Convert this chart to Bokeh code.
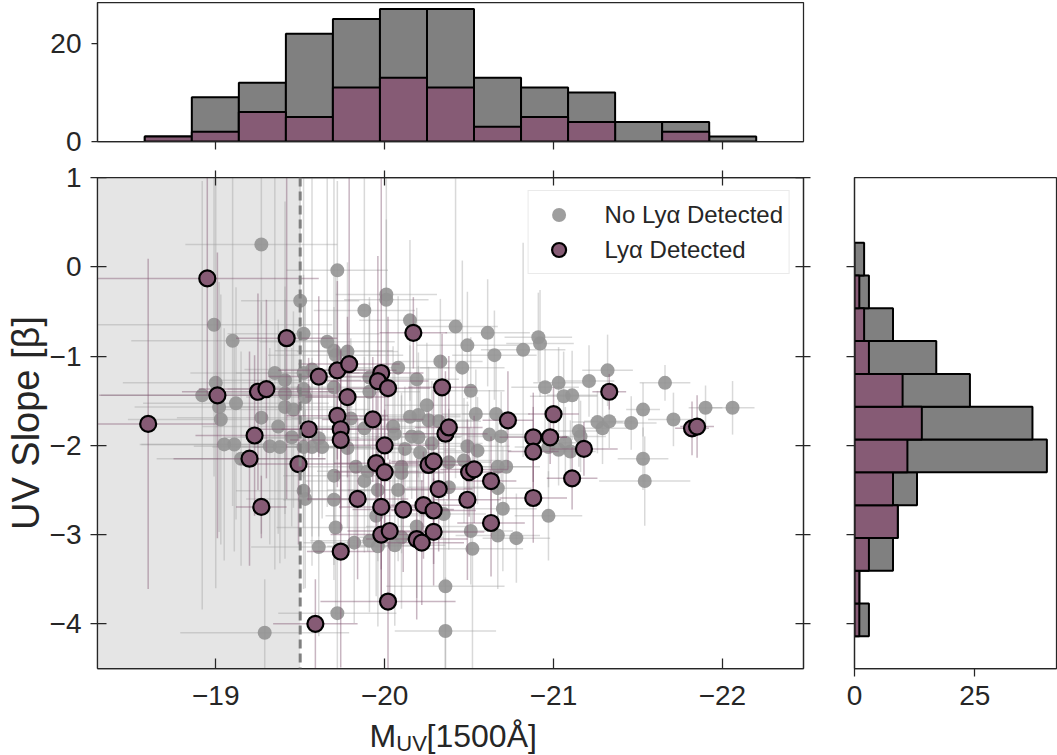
import numpy as np
from bokeh.plotting import figure
from bokeh.models import (Range1d, LinearAxis, FixedTicker, BoxAnnotation, Span, Legend,
                          LegendItem, ColumnDataSource, CustomJSTickFormatter)
from bokeh.core.properties import value
from bokeh.layouts import column, row
from bokeh.embed import file_html
from bokeh.resources import INLINE

# ---------------- data ----------------
gray_mag = [
    -19.27, -19.72, -19.50, -20.01, -20.01, -19.88, -18.99, -19.10, -20.15, -19.52,
    -19.66, -19.70, -19.78, -19.71, -20.33, -20.08, -19.35, -19.41, -19.52, -19.57,
    -19.91, -20.19, -19.00, -18.92, -19.02, -19.12, -19.41, -19.52, -19.53, -19.70,
    -19.91, -19.41, -19.46, -20.25, -20.15, -20.20, -20.26, -20.32, -19.27, -19.03,
    -19.80, -19.88, -19.37, -19.05, -19.11, -19.32, -19.38, -19.45, -19.61, -19.52,
    -19.57, -19.63, -19.78, -19.15, -19.83, -19.90, -19.88, -19.70, -19.52, -19.53,
    -19.70, -19.96, -19.95, -19.71, -19.82, -19.91, -19.61, -19.96, -19.72, -19.29,
    -20.06, -20.05, -20.16, -20.20, -20.12, -20.21, -20.28, -20.10, -20.10, -20.08,
    -20.19, -20.06, -20.10, -20.38, -20.47, -20.55, -20.49, -20.67, -20.72, -20.38,
    -20.67, -20.35, -20.70, -20.97, -20.51, -20.67, -20.78, -20.52, -20.36, -20.36,
    -20.42, -20.61, -20.49, -20.65, -20.82, -20.91, -20.92, -20.46, -20.51, -20.54,
    -20.66, -20.62, -20.69, -20.95, -21.03, -21.06, -21.11, -21.21, -21.32, -21.15,
    -21.16, -21.26, -21.29, -21.33, -21.07, -20.97, -21.03, -21.10, -21.46, -21.53,
    -21.71, -21.90, -22.06, -21.66, -21.53, -21.54]
gray_beta = [
    0.25, -0.04, -0.38, -0.31, -0.37, -0.49, -0.65, -0.83, -0.60, -0.75,
    -0.84, -0.94, -0.95, -0.99, -1.06, -1.13, -1.19, -1.27, -1.19, -1.15,
    -1.24, -1.26, -1.30, -1.44, -1.57, -1.53, -1.42, -1.37, -1.46, -1.35,
    -1.40, -1.57, -1.60, -1.55, -1.68, -1.66, -1.72, -1.73, -1.69, -1.71,
    -1.70, -1.81, -1.79, -1.99, -1.99, -2.01, -2.02, -1.91, -1.92, -2.02,
    -2.02, -2.02, -2.03, -2.15, -2.24, -2.29, -2.40, -2.34, -2.51, -2.60,
    -2.61, -2.50, -2.79, -2.92, -3.09, -3.07, -3.14, -3.13, -3.88, -4.10,
    -1.87, -1.79, -1.90, -1.91, -2.04, -2.08, -1.98, -2.24, -2.31, -2.50,
    -2.91, -3.12, -3.03, -2.19, -2.17, -2.06, -2.01, -2.24, -2.24, -2.47,
    -2.48, -2.77, -2.71, -2.79, -2.96, -3.01, -3.04, -3.16, -3.58, -4.08,
    -0.67, -0.74, -0.88, -0.99, -0.93, -0.79, -0.86, -1.13, -1.39, -1.65,
    -1.65, -1.88, -1.90, -1.35, -1.30, -1.45, -1.44, -1.28, -1.16, -1.84,
    -1.90, -1.74, -1.81, -1.73, -1.97, -2.02, -2.05, -2.07, -1.75, -1.60,
    -1.71, -1.58, -1.58, -1.30, -2.15, -2.40]
gray_mag_err = [
    0.45, 0.30, 0.35, 0.30, 0.25, 0.30, 0.70, 0.60, 0.30, 0.45,
    0.40, 0.35, 0.30, 0.40, 0.25, 0.30, 0.50, 0.45, 0.40, 0.40,
    0.30, 0.25, 0.55, 0.60, 0.50, 0.55, 0.40, 0.45, 0.35, 0.35,
    0.30, 0.40, 0.45, 0.25, 0.30, 0.25, 0.30, 0.25, 0.50, 0.55,
    0.35, 0.30, 0.45, 0.50, 0.55, 0.45, 0.40, 0.40, 0.35, 0.40,
    0.35, 0.40, 0.30, 0.50, 0.30, 0.30, 0.35, 0.30, 0.40, 0.35,
    0.30, 0.30, 0.30, 0.35, 0.30, 0.35, 0.40, 0.30, 0.35, 0.50,
    0.30, 0.25, 0.30, 0.25, 0.30, 0.25, 0.30, 0.30, 0.25, 0.30,
    0.30, 0.30, 0.25, 0.25, 0.25, 0.20, 0.25, 0.20, 0.20, 0.25,
    0.20, 0.25, 0.20, 0.20, 0.25, 0.25, 0.20, 0.30, 0.35, 0.30,
    0.25, 0.25, 0.30, 0.25, 0.25, 0.20, 0.20, 0.25, 0.20, 0.20,
    0.20, 0.20, 0.20, 0.20, 0.15, 0.20, 0.15, 0.15, 0.15, 0.15,
    0.15, 0.15, 0.15, 0.15, 0.15, 0.20, 0.15, 0.15, 0.15, 0.10,
    0.15, 0.10, 0.13, 0.15, 0.15, 0.27]
gray_beta_err = [
    0.9, 1.0, 1.4, 1.35, 0.9, 1.5, 1.7, 1.85, 0.9, 1.8,
    1.85, 1.95, 1.0, 0.9, 0.7, 0.8, 2.2, 2.0, 1.1, 2.2,
    0.9, 0.8, 2.3, 2.4, 1.4, 1.3, 1.2, 1.0, 1.1, 0.9,
    1.0, 1.2, 1.1, 0.7, 0.8, 0.7, 0.6, 0.7, 1.3, 1.4,
    0.9, 0.8, 1.2, 1.3, 1.2, 1.1, 1.3, 1.0, 1.1, 0.9,
    1.0, 0.8, 0.9, 1.2, 0.8, 0.9, 0.8, 1.0, 1.1, 1.0,
    0.9, 0.8, 0.9, 1.0, 0.9, 0.8, 1.0, 0.9, 0.7, 0.6,
    0.8, 0.9, 0.7, 0.8, 0.7, 0.8, 0.7, 0.8, 0.9, 0.8,
    0.8, 0.9, 0.8, 0.6, 0.7, 0.6, 0.5, 0.6, 0.5, 0.7,
    0.6, 0.8, 0.7, 0.5, 0.6, 0.6, 0.5, 1.35, 0.95, 0.6,
    1.7, 0.6, 0.6, 0.5, 1.2, 0.5, 0.6, 1.2, 0.6, 0.5,
    0.6, 0.5, 0.5, 0.5, 0.4, 0.5, 0.5, 0.4, 0.4, 0.4,
    0.4, 0.35, 0.4, 0.3, 0.4, 0.45, 0.4, 0.35, 0.3, 0.3,
    0.3, 0.25, 0.3, 0.2, 0.35, 0.5]

det_mag = [
    -18.60, -18.95, -19.01, -19.25, -19.30, -19.23, -19.20, -19.27, -19.42, -19.49,
    -19.55, -19.59, -19.61, -19.72, -19.79, -19.78, -19.72, -19.74, -19.74, -19.74,
    -19.93, -19.98, -19.96, -20.02, -20.00, -19.95, -20.00, -19.84, -19.98, -19.98,
    -20.03, -20.02, -20.17, -20.34, -20.36, -20.38, -20.11, -20.23, -20.29, -20.32,
    -20.26, -20.29, -20.29, -20.19, -20.22, -20.50, -20.53, -20.49, -20.63, -20.63,
    -20.73, -21.00, -20.88, -20.98, -21.18, -20.88, -21.11, -20.88, -21.33, -21.82, -21.85]
det_beta = [
    -1.76, -0.13, -1.44, -1.40, -1.37, -1.89, -2.15, -2.69, -0.80, -2.21,
    -1.82, -4.00, -1.23, -1.16, -1.09, -1.46, -1.67, -1.82, -1.94, -3.19,
    -1.71, -1.19, -1.28, -1.36, -2.00, -2.20, -2.30, -2.60, -2.69, -3.00,
    -2.96, -3.75, -0.74, -1.35, -1.87, -1.80, -2.72, -2.67, -2.73, -2.49,
    -2.22, -2.18, -2.97, -3.05, -3.09, -2.30, -2.27, -2.61, -2.40, -2.87,
    -1.72, -1.65, -1.91, -1.91, -2.04, -2.07, -2.37, -2.59, -1.40, -1.81, -1.79]
det_mag_err = [
    0.40, 0.66, 0.70, 0.45, 0.40, 0.35, 0.45, 0.15, 0.30, 0.35,
    0.30, 0.25, 0.30, 0.35, 0.30, 0.25, 0.30, 0.35, 0.30, 0.20,
    0.30, 0.25, 0.30, 0.25, 0.30, 0.25, 0.30, 0.30, 0.25, 0.30,
    0.25, 0.40, 0.20, 0.20, 0.25, 0.20, 0.30, 0.25, 0.25, 0.20,
    0.20, 0.25, 0.30, 0.30, 0.25, 0.20, 0.20, 0.20, 0.15, 0.20,
    0.15, 0.15, 0.20, 0.10, 0.20, 0.15, 0.15, 0.20, 0.10, 0.10, 0.10]
det_beta_err = [
    1.85, 1.30, 1.60, 1.10, 1.00, 0.90, 1.20, 0.35, 1.80, 0.90,
    0.80, 0.50, 0.90, 1.00, 2.10, 0.90, 0.80, 0.90, 1.00, 1.30,
    0.70, 2.20, 1.40, 0.80, 0.90, 0.80, 0.70, 0.90, 1.00, 0.80,
    0.80, 0.75, 0.40, 0.60, 0.70, 0.80, 0.70, 0.60, 0.60, 0.70,
    0.60, 0.80, 0.60, 0.90, 0.70, 0.50, 0.60, 0.90, 0.50, 0.60,
    0.55, 0.30, 0.50, 0.30, 0.30, 0.50, 0.35, 0.50, 0.20, 0.30, 0.35]

muv_bin_lo, muv_bin_hi = -18.58, -22.20
muv_counts_all = [1, 9, 12, 22, 25, 27, 27, 13, 11, 10, 4, 4, 1]
muv_counts_det = [1, 2, 6, 5, 11, 13, 11, 3, 5, 4, 0, 2, 0]

beta_bin_lo, beta_bin_hi = -4.14, 0.27
beta_counts_all = [3, 1, 8, 9, 13, 40, 37, 24, 17, 8, 3, 2]
beta_counts_det = [1, 1, 3, 9, 8, 11, 14, 10, 3, 2, 1, 0]

muv_limit = -19.5
x_ticks = [-19, -20, -21, -22]
y_ticks = [1, 0, -1, -2, -3, -4]

# ---------------- style ----------------
FONT = "Liberation Sans"
TXT = "#262626"
PURPLE = "#865b75"
GREY_BAR = "#808080"
TICK_FS = "28px"

minus_fmt = "return tick < 0 ? '\u2212' + (-tick) : '' + tick;"


def style_axis(ax, ticks, tin, tout, standoff=8, labels=True):
    ax.ticker = FixedTicker(ticks=ticks)
    ax.major_tick_in = tin
    ax.major_tick_out = tout
    ax.minor_tick_in = 0
    ax.minor_tick_out = 0
    ax.major_tick_line_color = TXT
    ax.major_tick_line_width = 1.25
    ax.axis_line_color = TXT
    ax.axis_line_width = 1.25
    ax.major_label_text_font = FONT
    ax.major_label_text_font_size = TICK_FS
    ax.major_label_text_color = TXT
    ax.major_label_standoff = standoff
    if labels:
        ax.formatter = CustomJSTickFormatter(code=minus_fmt)
    else:
        ax.formatter = CustomJSTickFormatter(code="return '';")
        ax.major_label_standoff = 0


def style_fig(p):
    p.outline_line_color = TXT
    p.outline_line_width = 1.25
    p.xgrid.visible = False
    p.ygrid.visible = False
    p.background_fill_color = "white"
    p.border_fill_color = "white"


x_range = Range1d(-18.3, -22.48)
y_range = Range1d(-4.5, 1.0)

main = figure(width=820, height=557, x_range=x_range, y_range=y_range,
              output_backend="svg", toolbar_location=None,
              min_border_left=97, min_border_right=17, min_border_top=17, min_border_bottom=49)
style_fig(main)
style_axis(main.xaxis[0], x_ticks, 10, 0, standoff=17)
style_axis(main.yaxis[0], y_ticks, 9, 7, standoff=9)
main.yaxis[0].axis_label = "UV Slope [β]"
main.yaxis[0].axis_label_text_font = FONT
main.yaxis[0].axis_label_text_font_size = "38px"
main.yaxis[0].axis_label_text_font_style = "normal"
main.yaxis[0].axis_label_text_color = TXT
main.yaxis[0].axis_label_standoff = 0
top_ax = LinearAxis()
style_axis(top_ax, x_ticks, 8, 7, labels=False)
main.add_layout(top_ax, "above")
right_ax = LinearAxis()
style_axis(right_ax, y_ticks, 8, 7, labels=False)
main.add_layout(right_ax, "right")

main.add_layout(BoxAnnotation(right=muv_limit, fill_color="#e5e5e5", fill_alpha=1.0,
                              line_color=None, level="underlay"))
main.add_layout(Span(location=muv_limit, dimension="height", line_color="#7f7f7f",
                     line_width=3, line_dash="9 5"))

gm = np.array(gray_mag); gb = np.array(gray_beta)
gme = np.array(gray_mag_err); gbe = np.array(gray_beta_err)
gsrc = ColumnDataSource(dict(x=gm, y=gb, xl=gm - gme, xr=gm + gme, yl=gb - gbe, yh=gb + gbe))
dm = np.array(det_mag); db = np.array(det_beta)
dme = np.array(det_mag_err); dbe = np.array(det_beta_err)
dsrc = ColumnDataSource(dict(x=dm, y=db, xl=dm - dme, xr=dm + dme, yl=db - dbe, yh=db + dbe))

main.segment(x0="xl", y0="y", x1="xr", y1="y", source=gsrc, line_color="#a0a0a0",
             line_alpha=0.4, line_width=1.5)
main.segment(x0="x", y0="yl", x1="x", y1="yh", source=gsrc, line_color="#a0a0a0",
             line_alpha=0.4, line_width=1.5)
gray_r = main.scatter("x", "y", source=gsrc, size=14, fill_color="#939393",
                      fill_alpha=0.9, line_color=None)
main.segment(x0="xl", y0="y", x1="xr", y1="y", source=dsrc, line_color=PURPLE,
             line_alpha=0.45, line_width=1.5)
main.segment(x0="x", y0="yl", x1="x", y1="yh", source=dsrc, line_color=PURPLE,
             line_alpha=0.45, line_width=1.5)
det_r = main.scatter("x", "y", source=dsrc, size=16, fill_color=PURPLE,
                     line_color="black", line_width=2.2)

legend = Legend(items=[LegendItem(label="No Lyα Detected", renderers=[gray_r]),
                       LegendItem(label="Lyα Detected", renderers=[det_r])],
                location="top_right", margin=13, padding=6, spacing=0,
                glyph_height=35, glyph_width=48, label_height=35, label_standoff=22,
                label_text_font=FONT, label_text_font_size="24px", label_text_color=TXT,
                background_fill_color="white", background_fill_alpha=0.8,
                border_line_color="#d5d5d5", border_line_width=1.2)
main.add_layout(legend)

top = figure(width=820, height=160, x_range=x_range, y_range=Range1d(0, 28.35),
             output_backend="svg", toolbar_location=None,
             min_border_left=97, min_border_right=17, min_border_top=2, min_border_bottom=19)
style_fig(top)
style_axis(top.xaxis[0], x_ticks, 0, 8, labels=False)
style_axis(top.yaxis[0], [0, 20], 0, 6, standoff=10)
medges = np.linspace(muv_bin_lo, muv_bin_hi, len(muv_counts_all) + 1)
top.quad(left=medges[:-1], right=medges[1:], bottom=0, top=muv_counts_all,
         fill_color=GREY_BAR, line_color="black", line_width=2)
mdet = np.array(muv_counts_det)
keep = mdet > 0
top.quad(left=medges[:-1][keep], right=medges[1:][keep], bottom=0, top=mdet[keep],
         fill_color=PURPLE, line_color="black", line_width=2)

rh = figure(width=237, height=557, x_range=Range1d(0, 42), y_range=y_range,
            output_backend="svg", toolbar_location=None,
            min_border_left=34, min_border_right=1, min_border_top=17, min_border_bottom=49)
style_fig(rh)
style_axis(rh.xaxis[0], [0, 25], 0, 8, standoff=9)
style_axis(rh.yaxis[0], [0, -1, -2, -3, -4], 0, 8, labels=False)
bedges = np.linspace(beta_bin_lo, beta_bin_hi, len(beta_counts_all) + 1)
rh.quad(left=0, right=beta_counts_all, bottom=bedges[:-1], top=bedges[1:],
        fill_color=GREY_BAR, line_color="black", line_width=2)
bdet = np.array(beta_counts_det)
keepb = bdet > 0
rh.quad(left=0, right=bdet[keepb], bottom=bedges[:-1][keepb], top=bedges[1:][keepb],
        fill_color=PURPLE, line_color="black", line_width=2)

# x-axis title strip (M with subscript UV); shares the main x range
xlab = figure(width=820, height=38, title=None, x_range=x_range, y_range=Range1d(38, 0),
              output_backend="svg", toolbar_location=None,
              min_border_left=97, min_border_right=17, min_border_top=0, min_border_bottom=0,
              x_axis_location=None, y_axis_location=None)
xlab.outline_line_color = None
xlab.background_fill_color = "white"
xlab.border_fill_color = "white"
xlab.xgrid.visible = False
xlab.ygrid.visible = False
xlab.text(x=[-19.99], y=[18], text=["M"], text_font=value(FONT), text_font_size="32px",
          text_color=TXT, text_baseline="middle", text_align="center")
xlab.text(x=[-20.16], y=[26], text=["UV"], text_font=value(FONT), text_font_size="22px",
          text_color=TXT, text_baseline="middle", text_align="center")
xlab.text(x=[-20.575], y=[18], text=["[1500Å]"], text_font=value(FONT), text_font_size="32px",
          text_color=TXT, text_baseline="middle", text_align="center")

layout = column(top, row(main, rh), xlab)
open("out.html", "w").write(file_html(layout, INLINE, "UV slope vs MUV"))
